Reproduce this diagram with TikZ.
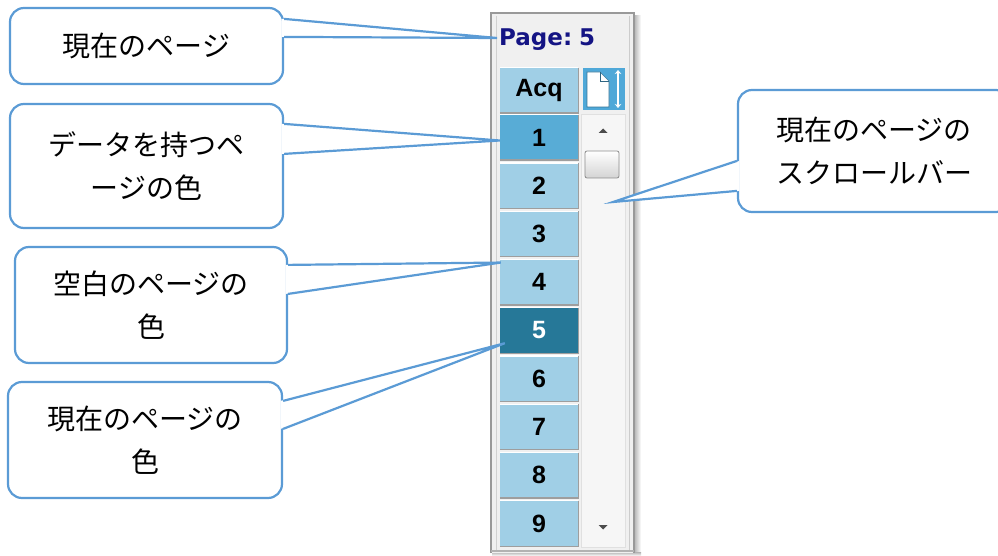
\documentclass[tikz,border=0pt]{standalone}
\usepackage{fontspec}
\newfontfamily\cjk{Noto Sans CJK JP}
\newfontfamily\uifont{DejaVu Sans}
\newfontfamily\btnfont{Liberation Sans}
\usetikzlibrary{calc,arrows.meta}
\definecolor{callblue}{HTML}{5B9BD5}
\definecolor{btnlight}{HTML}{A0CFE6}
\definecolor{btnmid}{HTML}{58ACD6}
\definecolor{btndark}{HTML}{267898}
\definecolor{iconblue}{HTML}{4FA8D8}
\definecolor{panelbg}{HTML}{F0F0F0}
\definecolor{navy}{HTML}{141484}
\begin{document}
\begin{tikzpicture}[x=1pt,y=-1pt,
  callbox/.style={draw=callblue, line width=2.2pt, fill=white, rounded corners=14pt,
    inner sep=0pt, align=center, font=\cjk\fontsize{28}{43}\selectfont},
  callline/.style={draw=callblue, line width=2.2pt, line join=miter},
  btn/.style={minimum width=78pt, minimum height=45pt, inner sep=0pt,
    font=\btnfont\bfseries\fontsize{25}{25}\selectfont},
  btnedge/.style={draw=black!38, line width=1.4pt},
  btntop/.style={draw=white, line width=1.2pt}]
\useasboundingbox (0,0) rectangle (998,556);

% ---------- panel ----------
\shade[left color=black!30, right color=white] (634,16) rectangle (641,556);
\shade[top color=black!30, bottom color=white] (492,552) rectangle (641,556);
\fill[panelbg] (490,12) rectangle (635,553);
\draw[black!40, line width=2pt] (491,553) -- (491,13) -- (634,13) -- (634,553);
\draw[black!18, line width=1pt] (496,16) -- (496,550);
\draw[black!30, line width=1.2pt] (491,551) -- (634,551);
\draw[black!12, fill=white!40!panelbg] (581,114) rectangle (625,547);
\draw[black!20, line width=1pt] (629,16) -- (629,550);

\node[font=\uifont\bfseries\fontsize{23}{23}\selectfont, text=navy, anchor=west, inner sep=0pt]
  (page) at (499,40) {Page:\kern-1pt\ 5};

% buttons
\node[btn, fill=btnlight] (acq) at (539,90.5) {Acq};
\node[btn, fill=btnmid] (b1) at (539,137.5) {1};
\node[btn, fill=btnlight] (b2) at (539,185.75) {2};
\node[btn, fill=btnlight] (b3) at (539,234) {3};
\node[btn, fill=btnlight] (b4) at (539,282.25) {4};
\node[btn, fill=btndark, text=white] (b5) at (539,330.5) {5};
\node[btn, fill=btnlight] (b6) at (539,378.75) {6};
\node[btn, fill=btnlight] (b7) at (539,427) {7};
\node[btn, fill=btnlight] (b8) at (539,475.25) {8};
\node[btn, fill=btnlight] (b9) at (539,523.5) {9};
\foreach \b in {acq,b1,b2,b3,b4,b5,b6,b7,b8,b9}{
  \draw[btntop] (\b.north west) -- (\b.north east);
  \draw[btnedge] (\b.south west) -- (\b.south east) -- (\b.north east);
}

% icon button
\node[fill=iconblue, minimum width=42pt, minimum height=42pt, inner sep=0pt] (icon) at (603.5,89) {};
\fill[white, draw=iconblue!70!black, line width=0.6pt] (587,72) -- (600,72) -- (609,81) -- (609,107) -- (587,107) -- cycle;
\draw[iconblue!60!black, line width=0.6pt] (600,72) -- (600,81) -- (609,81);
\draw[white, line width=2pt, {Stealth[length=4pt,width=6.5pt]}-{Stealth[length=4pt,width=6.5pt]}] (618,70) -- (618,108);

% scrollbar
\fill[black!70] (598.5,133) -- (607.5,133) -- (603,128.5) -- cycle;
\shade[top color=white, bottom color=black!17, draw=black!45, line width=0.8pt, rounded corners=2pt]
  (585,151) rectangle (619,178);
\fill[black!70] (598.5,525) -- (607.5,525) -- (603,529.5) -- cycle;
\coordinate (sbar) at (613,202);

% ---------- callouts ----------
\node[callbox, minimum width=273pt, minimum height=76pt] (c1) at (146.5,46) {現在のページ};
\node[callbox, minimum width=273pt, minimum height=124pt] (c2) at (146.5,166) {データを持つペ\\ージの色};
\node[callbox, minimum width=272pt, minimum height=116pt] (c3) at (151,305) {空白のページの\\色};
\node[callbox, minimum width=274pt, minimum height=116pt] (c4) at (145,440) {現在のページの\\色};
\node[callbox, minimum width=272pt, minimum height=122pt] (c5) at (874,151) {現在のページの\\スクロールバー};

\coordinate (t1) at ($(page.west)+(-2,-2)$);
\coordinate (t2) at ($(b1.west)+(0,3)$);
\coordinate (t3) at ($(b4.north west)+(1,3)$);
\coordinate (t4) at ($(b5.south west)+(5,-10)$);

\fill[white] ($(c1.north east)+(-2.5,12)$) -- (t1) -- ($(c1.north east)+(-2.5,30)$) -- cycle;
\draw[callline] ($(c1.north east)+(0,12)$) -- (t1) -- ($(c1.north east)+(0,30)$);

\fill[white] ($(c2.north east)+(-2.5,21)$) -- (t2) -- ($(c2.north east)+(-2.5,51)$) -- cycle;
\draw[callline] ($(c2.north east)+(0,21)$) -- (t2) -- ($(c2.north east)+(0,51)$);

\fill[white] ($(c3.north east)+(-2.5,19)$) -- (t3) -- ($(c3.north east)+(-2.5,48)$) -- cycle;
\draw[callline] ($(c3.north east)+(0,19)$) -- (t3) -- ($(c3.north east)+(0,48)$);

\fill[white] ($(c4.north east)+(-2.5,20)$) -- (t4) -- ($(c4.north east)+(-2.5,48)$) -- cycle;
\draw[callline] ($(c4.north east)+(0,20)$) -- (t4) -- ($(c4.north east)+(0,48)$);

\fill[white] ($(c5.north west)+(2.5,72)$) -- (sbar) -- ($(c5.north west)+(2.5,102)$) -- cycle;
\draw[callline] ($(c5.north west)+(0,72)$) -- (sbar) -- ($(c5.north west)+(0,102)$);
\end{tikzpicture}
\end{document}
